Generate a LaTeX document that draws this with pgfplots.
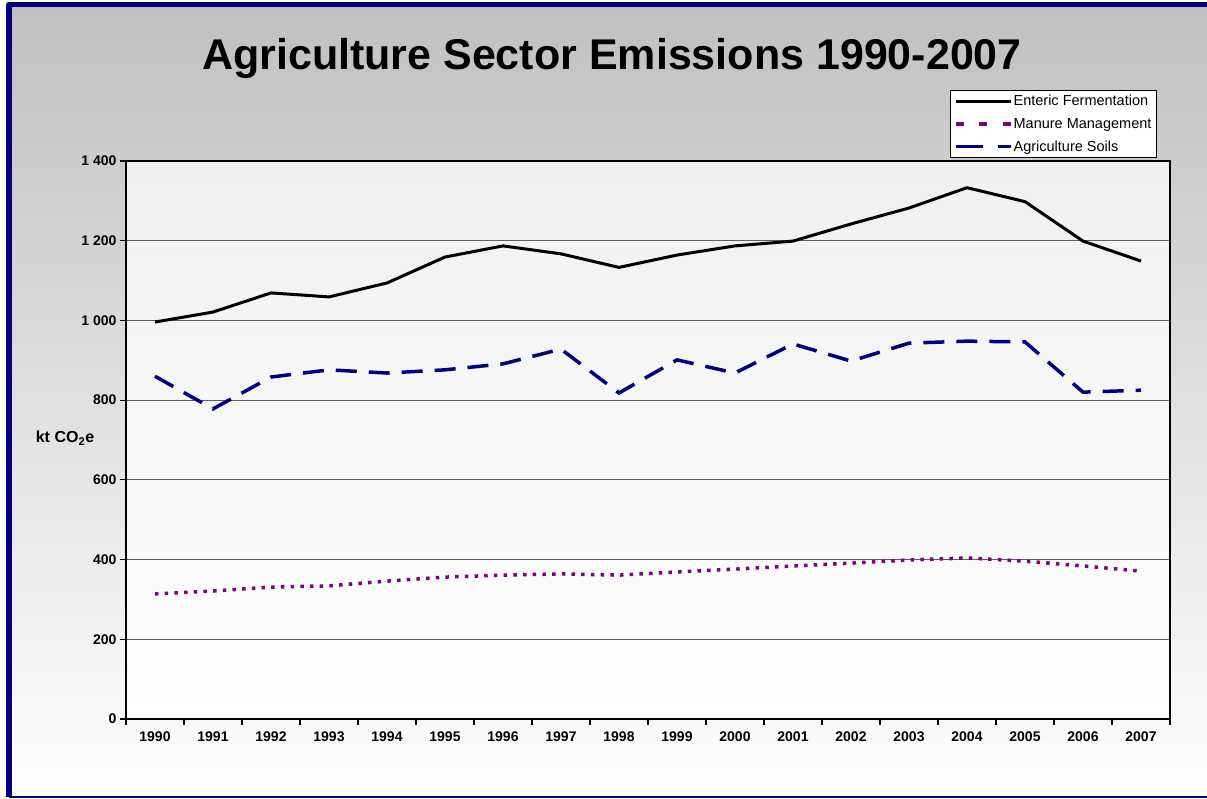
\documentclass[border=0pt]{standalone}
\usepackage{pgfplots}
\pgfplotsset{compat=1.18}
\usepackage{fontspec}
\setmainfont{Liberation Sans}
\definecolor{navy}{HTML}{000080}
\definecolor{purp}{HTML}{800080}
\definecolor{bgtop}{HTML}{C0C0C0}
\definecolor{plottop}{HTML}{F0F0F0}
\definecolor{gridc}{HTML}{606060}
\begin{document}
\begin{tikzpicture}
\useasboundingbox (0bp,0bp) rectangle (1207bp,799bp);
\fill[white] (0bp,0bp) rectangle (1207bp,799bp);
\shade[top color=bgtop, bottom color=white] (9bp,2bp) rectangle (1207bp,794.5bp);
\draw[navy, line width=5.5bp, line join=round] (9bp,2bp) -- (9bp,794.5bp) -- (1220bp,794.5bp);
\draw[navy, line width=2bp] (9bp,2bp) -- (1220bp,2bp);
\node[anchor=base, font=\fontsize{43bp}{50bp}\selectfont\bfseries] at (612bp,729bp) {Agriculture Sector Emissions 1990-2007};
\node[font=\fontsize{16bp}{18bp}\selectfont\bfseries] at (65bp,361bp) {kt CO\textsubscript{2}e};
\begin{axis}[
  at={(126bp,80bp)}, anchor=south west,
  width=1044bp, height=558bp, scale only axis,
  xmin=-0.5, xmax=17.5, ymin=0, ymax=1400,
  xtick={-0.5,0.5,1.5,2.5,3.5,4.5,5.5,6.5,7.5,8.5,9.5,10.5,11.5,12.5,13.5,14.5,15.5,16.5,17.5},
  xticklabels={1990,1991,1992,1993,1994,1995,1996,1997,1998,1999,2000,2001,2002,2003,2004,2005,2006,2007,{}},
  xticklabel style={xshift=29bp, font=\fontsize{14bp}{16bp}\selectfont\bfseries, yshift=-3bp},
  ytick={0,200,400,600,800,1000,1200,1400},
  yticklabels={0,200,400,600,800,1 000,1 200,1 400},
  yticklabel style={font=\fontsize{14bp}{16bp}\selectfont\bfseries},
  xtick pos=bottom, ytick pos=left,
  tick align=outside, major tick length=6bp,
  tick style={black, line width=1.2bp},
  axis line style={black, line width=1.5bp},
  ymajorgrids, major grid style={gridc, line width=1bp},
  axis background/.style={shade, top color=plottop, bottom color=white},
  legend style={at={(axis description cs:0.789,1.127)}, anchor=north west,
    draw=black, line width=0.8bp, fill=white,
    font=\fontsize{14.5bp}{17bp}\selectfont,
    inner xsep=4bp, inner ysep=3.5bp, row sep=9bp, nodes={inner sep=1bp}},
  legend cell align=left,
  legend image code/.code={\draw[#1] (0bp,0bp) -- (55bp,0bp);},
]
\addplot[black, line width=3bp, line join=round, forget plot] coordinates {
(0,996) (1,1021) (2,1069) (3,1059) (4,1094) (5,1159) (6,1187) (7,1167) (8,1133)
(9,1164) (10,1187) (11,1199) (12,1242) (13,1282) (14,1333) (15,1298) (16,1199) (17,1149)};
\addplot[purp, line width=3.5bp, dash pattern=on 3.5bp off 6.2bp, forget plot] coordinates {
(0,314) (1,321) (2,331) (3,334) (4,346) (5,356) (6,361) (7,364) (8,361)
(9,369) (10,376) (11,384) (12,391) (13,399) (14,404) (15,396) (16,384) (17,371)};
\addplot[navy, line width=3.5bp, dash pattern=on 21bp off 12bp, forget plot] coordinates {
(0,860) (1,778) (2,858) (3,876) (4,868) (5,876) (6,891) (7,928) (8,818)
(9,901) (10,868) (11,941) (12,898) (13,943) (14,948) (15,946) (16,820) (17,825)};
\addlegendimage{black, line width=3bp}
\addlegendentry{Enteric Fermentation}
\addlegendimage{purp, line width=3.5bp, dash pattern=on 8bp off 15.5bp}
\addlegendentry{Manure Management}
\addlegendimage{navy, line width=3.5bp, dash pattern=on 27bp off 15bp}
\addlegendentry{Agriculture Soils}
\end{axis}
\end{tikzpicture}
\end{document}
